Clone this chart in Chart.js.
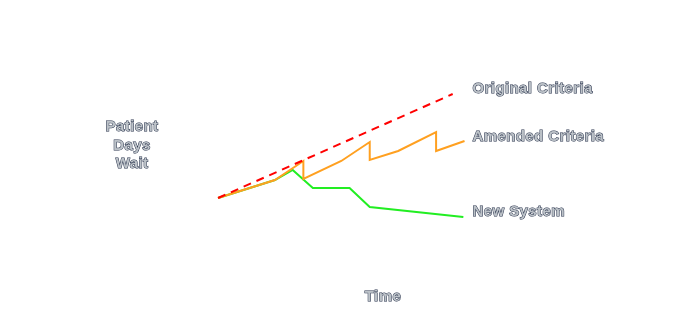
<!DOCTYPE html>
<html>
<head>
<meta charset="utf-8">
<script src="https://cdn.jsdelivr.net/npm/chart.js@4"></script>
<style>
  html, body { margin: 0; padding: 0; background: #ffffff; }
  #wrap { width: 684px; height: 331px; position: relative; }
</style>
</head>
<body>
<div id="wrap"><canvas id="c" width="684" height="331"></canvas></div>
<script>
// Time units (arbitrary) and Patient Days Wait (arbitrary units)
const originalTime = [0, 9.9];
const originalWait = [5, 15.4];

const amendedTime = [0, 2.4, 3.6, 3.6, 5.2, 6.4, 6.4, 7.6, 9.2, 9.2, 10.4];
const amendedWait = [5, 6.8, 8.7, 6.9, 8.7, 10.6, 8.8, 9.7, 11.6, 9.7, 10.7];

const newTime = [0, 2.4, 3.15, 4.0, 5.55, 6.4, 10.35];
const newWait = [5, 6.8, 7.8, 6.0, 6.0, 4.1, 3.1];

const seriesNames = ['Original Criteria', 'Amended Criteria', 'New System'];
const yAxisLabel = ['Patient', 'Days', 'Wait'];
const xAxisLabel = 'Time';

const toPoints = (xs, ys) => xs.map((x, i) => ({ x: x, y: ys[i] }));

const labelPlugin = {
  id: 'labels',
  afterDraw(chart) {
    const ctx = chart.ctx;
    const xs = chart.scales.x, ys = chart.scales.y;
    ctx.save();
    ctx.font = 'bold 15px "Liberation Sans", Arial, sans-serif';
    try { ctx.letterSpacing = '0.4px'; } catch (e) {}
    ctx.textBaseline = 'middle';
    ctx.lineWidth = 1;
    ctx.strokeStyle = '#1f2a44';
    ctx.fillStyle = '#bcc2c8';
    const draw = (t, x, y, align) => {
      ctx.textAlign = align;
      ctx.strokeText(t, x, y);
      ctx.fillText(t, x, y);
    };
    const ends = [
      [originalTime, originalWait, -5],
      [amendedTime, amendedWait, -4],
      [newTime, newWait, -5]
    ];
    ends.forEach((e, i) => {
      const lx = xs.getPixelForValue(10.4) + 8;
      const ly = ys.getPixelForValue(e[1][e[1].length - 1]) + e[2];
      draw(seriesNames[i], lx, ly, 'left');
    });
    yAxisLabel.forEach((t, i) => draw(t, 132, 127 + i * 18.5, 'center'));
    draw(xAxisLabel, 383, 297, 'center');
    ctx.restore();
  }
};

new Chart(document.getElementById('c'), {
  type: 'line',
  data: {
    datasets: [
      {
        label: seriesNames[0],
        data: toPoints(originalTime, originalWait),
        borderColor: '#ff0000',
        borderWidth: 2,
        borderDash: [8, 6],
        pointRadius: 0,
        tension: 0,
        fill: false
      },
      {
        label: seriesNames[1],
        data: toPoints(amendedTime, amendedWait),
        borderColor: '#ffa020',
        borderWidth: 2,
        pointRadius: 0,
        tension: 0,
        fill: false
      },
      {
        label: seriesNames[2],
        data: toPoints(newTime, newWait),
        borderColor: '#22ee22',
        borderWidth: 2,
        pointRadius: 0,
        tension: 0,
        fill: false
      }
    ]
  },
  options: {
    responsive: false,
    animation: false,
    layout: { padding: 0 },
    plugins: { legend: { display: false }, tooltip: { enabled: false } },
    scales: {
      x: { type: 'linear', display: false, min: -9.2, max: 19.66 },
      y: { type: 'linear', display: false, min: -8.3, max: 24.8 }
    }
  },
  plugins: [labelPlugin]
});
</script>
</body>
</html>
